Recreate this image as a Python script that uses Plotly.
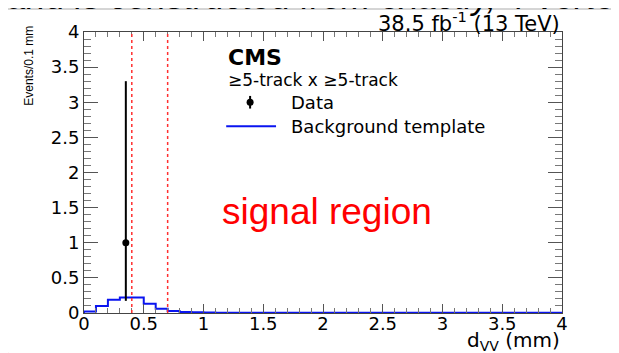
import plotly.graph_objects as go

# ---------------- data ----------------
bin_width = 0.1
bin_edges = [round(bin_width * i, 1) for i in range(41)]  # 0.0 ... 4.0 mm
background = [0.02, 0.10, 0.19, 0.22, 0.22, 0.13, 0.06, 0.03, 0.015, 0.010,
              0.007, 0.005, 0.004, 0.004, 0.003, 0.003, 0.003, 0.002, 0.002, 0.002,
              0.002, 0.002, 0.002, 0.002, 0.002, 0.002, 0.002, 0.002, 0.002, 0.002,
              0.002, 0.002, 0.002, 0.002, 0.002, 0.002, 0.002, 0.002, 0.002, 0.003]
data_x = [0.35]
data_y = [1.0]
data_err_up = [2.30]
data_err_down = [0.827]
cut_lines = [0.4, 0.7]
tick_vals = [0, 0.5, 1, 1.5, 2, 2.5, 3, 3.5, 4]
tick_text = ["0", "0.5", "1", "1.5", "2", "2.5", "3", "3.5", "4"]

ROOTFONT = "DejaVu Sans"

fig = go.Figure()

# background template histogram
hx = [0.0] + bin_edges
hy = [0.0] + background + [background[-1]]
fig.add_trace(go.Scatter(x=hx, y=hy, mode="lines", line=dict(color="#0a14f0", width=2, shape="hv"),
                         showlegend=False, hoverinfo="skip"))

# data
fig.add_trace(go.Scatter(x=data_x, y=data_y, mode="markers",
                         marker=dict(color="black", size=7, symbol="circle"),
                         error_y=dict(type="data", symmetric=False, array=data_err_up,
                                      arrayminus=data_err_down, color="black", thickness=2, width=0),
                         showlegend=False))

# legend: data marker
fig.add_trace(go.Scatter(x=[1.39], y=[3.0], mode="markers",
                         marker=dict(color="black", size=7),
                         error_y=dict(type="constant", value=0.09, color="black", thickness=2, width=0),
                         showlegend=False, hoverinfo="skip"))
# legend: blue line
fig.add_trace(go.Scatter(x=[1.19, 1.607], y=[2.66, 2.66], mode="lines",
                         line=dict(color="#0a14f0", width=2), showlegend=False, hoverinfo="skip"))

shapes = []
for c in cut_lines:
    shapes.append(dict(type="line", xref="x", yref="y", x0=c, x1=c, y0=0, y1=4,
                       line=dict(color="#ff3030", width=1.5, dash="dot")))
# slide frame
shapes.append(dict(type="rect", xref="paper", yref="paper", x0=-0.167, x1=1.13, y0=-0.16, y1=1.082,
                   line=dict(color="#c8c8c8", width=1.5)))
# red partial shape at bottom-left
shapes.append(dict(type="circle", xref="paper", yref="paper", x0=-0.197, x1=-0.161, y0=-0.185, y1=-0.114,
                   line=dict(color="#e02020", width=2.5)))

annotations = [
    dict(text="<i>and is constructed from exactly, 4-vertex</i>", xref="paper", yref="paper",
         x=-0.165, y=1.126, xanchor="left", yanchor="middle", showarrow=False,
         font=dict(family="Liberation Sans", size=35, color="black")),
    dict(text="38.5 fb<sup>-1</sup> (13 TeV)", xref="paper", yref="paper", x=1.0, y=1.034,
         xanchor="right", yanchor="middle", showarrow=False,
         font=dict(family=ROOTFONT, size=21, color="black")),
    dict(text="<b>CMS</b>", xref="x", yref="y", x=1.19, y=3.63, xanchor="left", yanchor="middle",
         showarrow=False, font=dict(family=ROOTFONT, size=22, color="black")),
    dict(text="≥5-track x ≥5-track", xref="x", yref="y", x=1.19, y=3.32, xanchor="left",
         yanchor="middle", showarrow=False, font=dict(family=ROOTFONT, size=17, color="black")),
    dict(text="Data", xref="x", yref="y", x=1.715, y=3.0, xanchor="left", yanchor="middle",
         showarrow=False, font=dict(family=ROOTFONT, size=18, color="black")),
    dict(text="Background template", xref="x", yref="y", x=1.715, y=2.66, xanchor="left",
         yanchor="middle", showarrow=False, font=dict(family=ROOTFONT, size=18, color="black")),
    dict(text="signal region", xref="x", yref="y", x=2.03, y=1.44, xanchor="center", yanchor="middle",
         showarrow=False, font=dict(family="Liberation Sans", size=37, color="#ff0000")),
    dict(text="Events/0.1 mm", xref="paper", yref="paper", x=-0.115, y=0.88, textangle=-90,
         xanchor="center", yanchor="middle", showarrow=False,
         font=dict(family="Liberation Sans", size=12, color="black")),
    dict(text="d<sub>VV</sub> (mm)", xref="paper", yref="paper", x=1.0, y=-0.098,
         xanchor="right", yanchor="middle", showarrow=False,
         font=dict(family=ROOTFONT, size=20, color="black")),
]

# The page body has an 8px default margin; the figure is sized so that it fills the window.
fig.update_layout(
    width=611, height=345,
    margin=dict(l=76, r=57, t=24, b=40),
    paper_bgcolor="white", plot_bgcolor="white",
    shapes=shapes, annotations=annotations, showlegend=False,
    font=dict(family=ROOTFONT, size=18, color="black"),
)
axis_common = dict(range=[0, 4], tickvals=tick_vals, ticktext=tick_text,
                   ticks="inside", tickcolor="#555", showline=True, linecolor="#444",
                   linewidth=1, mirror="allticks", showgrid=False, zeroline=False,
                   tickfont=dict(family=ROOTFONT, size=18, color="black"))
fig.update_xaxes(ticklen=9, ticklabelstandoff=-6,
                 minor=dict(dtick=0.1, ticks="inside", ticklen=5, tickcolor="#777", showgrid=False),
                 **axis_common)
fig.update_yaxes(ticklen=14,
                 minor=dict(dtick=0.1, ticks="inside", ticklen=7, tickcolor="#777", showgrid=False),
                 **axis_common)

fig.write_html("out.html")
